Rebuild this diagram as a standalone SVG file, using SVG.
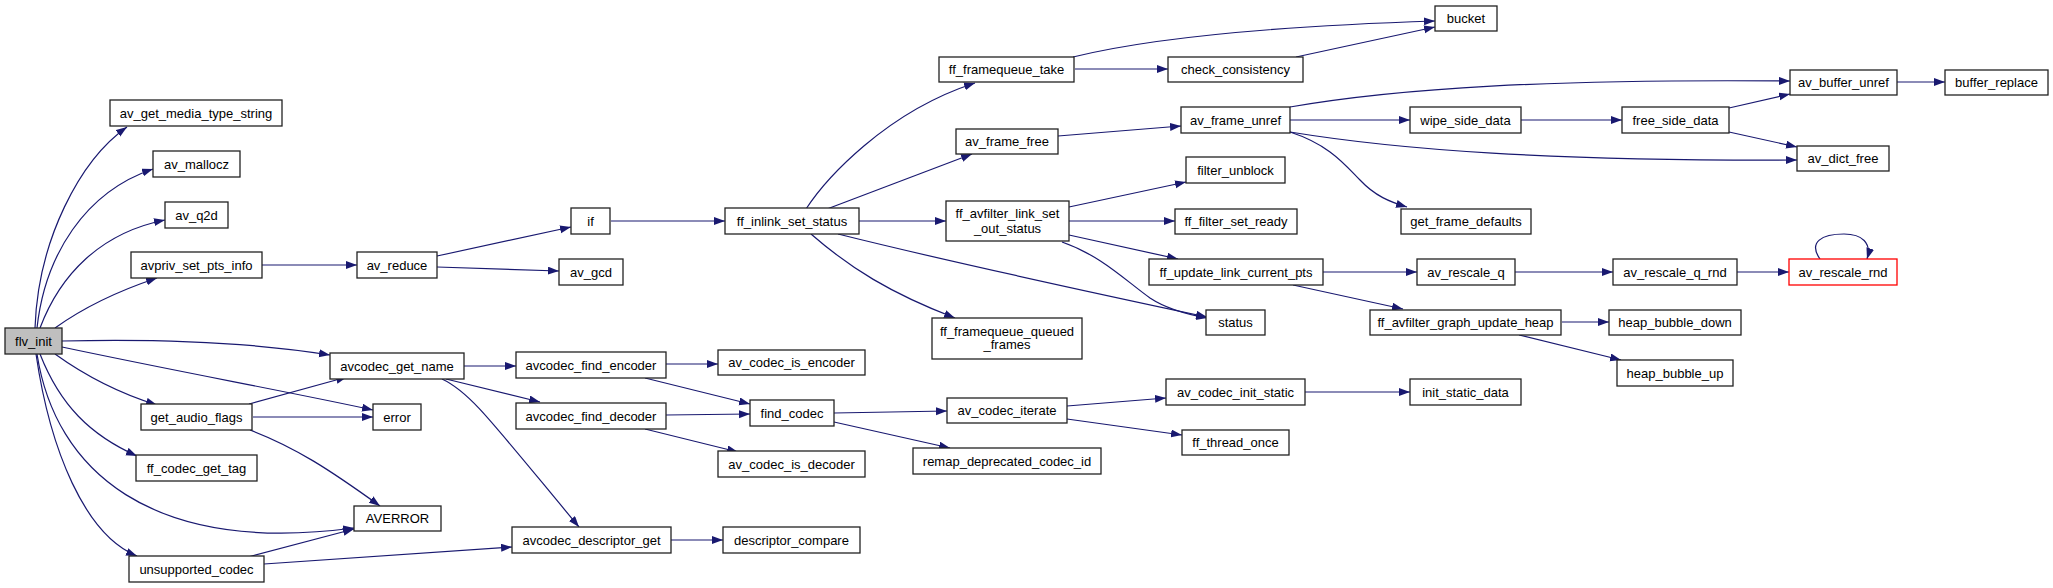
<svg xmlns="http://www.w3.org/2000/svg" width="2053" height="588" viewBox="0 0 2053 588">
<defs>
<marker id="ah" markerUnits="userSpaceOnUse" markerWidth="12" markerHeight="9" refX="11" refY="4" orient="auto">
<path d="M0,0 L11,4 L0,8 z" fill="#191970"/>
</marker>
<style>
.n rect{fill:#fff;stroke:#222;stroke-width:1.3}
.n text{font-family:"Liberation Sans",Arial,sans-serif;font-size:13px;fill:#000;text-anchor:middle}
#flv_init rect{fill:#bfbfbf}
#av_rescale_rnd rect{stroke:#ff0000}
#edges path{fill:none;stroke:#191970;stroke-width:1.2;marker-end:url(#ah)}
</style>
</defs>
<rect x="0" y="0" width="2053" height="588" fill="#fff"/>
<g id="edges">
<path d="M35,328 C38,240 80,160 127,127"/>
<path d="M37,328 C45,255 85,192 153,169"/>
<path d="M40,328 C60,275 100,233 165,220"/>
<path d="M55,328 C80,310 115,292 157,278"/>
<path d="M62,341 C150,339 250,342 330,355"/>
<path d="M62,347 C180,372 290,392 373,410"/>
<path d="M55,354 C80,372 115,392 157,405"/>
<path d="M40,354 C60,405 90,435 137,456"/>
<path d="M37,354 C55,470 150,555 354,528"/>
<path d="M36,354 C50,450 85,535 137,556"/>
<path d="M249,404 L347,377"/>
<path d="M253,417 L373,417"/>
<path d="M250,430 C295,447 330,470 380,506"/>
<path d="M248,557 L354,529"/>
<path d="M264,564 L512,547"/>
<path d="M464,366 L516,366"/>
<path d="M446,379 L540,402"/>
<path d="M442,379 C470,392 490,420 579,527"/>
<path d="M666,364 L718,364"/>
<path d="M645,378 L750,404"/>
<path d="M666,415 L750,414"/>
<path d="M645,429 L738,452"/>
<path d="M834,413 L947,411"/>
<path d="M834,422 L950,448"/>
<path d="M1067,406 L1166,398"/>
<path d="M1067,419 L1182,435"/>
<path d="M1305,392 L1410,392"/>
<path d="M671,540 L723,540"/>
<path d="M262,265 L357,265"/>
<path d="M437,256 L571,227"/>
<path d="M437,267 L559,271"/>
<path d="M611,221 L725,221"/>
<path d="M806,209 C825,180 885,112 975,83"/>
<path d="M827,209 L972,154"/>
<path d="M859,221 L946,221"/>
<path d="M811,234 C850,268 890,293 955,318"/>
<path d="M838,234 C950,262 1080,290 1207,317"/>
<path d="M1075,69 L1168,69"/>
<path d="M1073,57 C1150,38 1280,26 1435,21"/>
<path d="M1296,57 L1435,27"/>
<path d="M1058,136 L1181,126"/>
<path d="M1290,107 C1400,88 1550,79 1790,81"/>
<path d="M1290,120 L1410,120"/>
<path d="M1290,132 C1400,150 1550,161 1797,160"/>
<path d="M1290,132 C1330,145 1345,165 1360,180 C1375,196 1390,202 1407,207"/>
<path d="M1521,120 L1622,120"/>
<path d="M1729,108 L1790,94"/>
<path d="M1729,132 L1797,147"/>
<path d="M1897,82 L1945,82"/>
<path d="M1069,207 L1186,182"/>
<path d="M1069,221 L1175,221"/>
<path d="M1069,235 L1178,259"/>
<path d="M1062,242 C1100,255 1125,280 1150,298 C1165,308 1185,314 1207,318"/>
<path d="M1323,272 L1417,272"/>
<path d="M1293,285 L1403,309"/>
<path d="M1515,272 L1613,272"/>
<path d="M1737,272 L1789,272"/>
<path d="M1820,259 C1808,242 1822,234 1844,234 C1862,234 1872,243 1867,259"/>
<path d="M1562,322 L1609,322"/>
<path d="M1519,335 L1621,360"/>
</g>
<g id="flv_init" class="n"><rect x="5" y="328" width="57" height="26"/><text x="33.5" y="345.5">flv_init</text></g>
<g id="av_get_media_type_string" class="n"><rect x="110" y="100" width="172" height="26"/><text x="196" y="117.5">av_get_media_type_string</text></g>
<g id="av_mallocz" class="n"><rect x="153" y="151" width="87" height="26"/><text x="196.5" y="168.5">av_mallocz</text></g>
<g id="av_q2d" class="n"><rect x="165" y="202" width="63" height="26"/><text x="196.5" y="219.5">av_q2d</text></g>
<g id="avpriv_set_pts_info" class="n"><rect x="131" y="252" width="131" height="26"/><text x="196.5" y="269.5">avpriv_set_pts_info</text></g>
<g id="av_reduce" class="n"><rect x="357" y="252" width="80" height="26"/><text x="397" y="269.5">av_reduce</text></g>
<g id="if" class="n"><rect x="571" y="208" width="39" height="26"/><text x="590.5" y="225.5">if</text></g>
<g id="av_gcd" class="n"><rect x="559" y="259" width="64" height="26"/><text x="591" y="276.5">av_gcd</text></g>
<g id="ff_inlink_set_status" class="n"><rect x="725" y="208" width="134" height="26"/><text x="792" y="225.5">ff_inlink_set_status</text></g>
<g id="ff_framequeue_take" class="n"><rect x="939" y="57" width="135" height="25"/><text x="1006.5" y="74">ff_framequeue_take</text></g>
<g id="check_consistency" class="n"><rect x="1168" y="57" width="135" height="25"/><text x="1235.5" y="74">check_consistency</text></g>
<g id="bucket" class="n"><rect x="1435" y="6" width="62" height="25"/><text x="1466" y="23">bucket</text></g>
<g id="av_frame_free" class="n"><rect x="956" y="129" width="102" height="25"/><text x="1007" y="146">av_frame_free</text></g>
<g id="av_frame_unref" class="n"><rect x="1181" y="107" width="109" height="26"/><text x="1235.5" y="124.5">av_frame_unref</text></g>
<g id="av_buffer_unref" class="n"><rect x="1790" y="70" width="107" height="25"/><text x="1843.5" y="87">av_buffer_unref</text></g>
<g id="buffer_replace" class="n"><rect x="1945" y="70" width="103" height="25"/><text x="1996.5" y="87">buffer_replace</text></g>
<g id="wipe_side_data" class="n"><rect x="1410" y="107" width="111" height="26"/><text x="1465.5" y="124.5">wipe_side_data</text></g>
<g id="free_side_data" class="n"><rect x="1622" y="107" width="107" height="26"/><text x="1675.5" y="124.5">free_side_data</text></g>
<g id="av_dict_free" class="n"><rect x="1797" y="146" width="92" height="25"/><text x="1843" y="163">av_dict_free</text></g>
<g id="get_frame_defaults" class="n"><rect x="1401" y="209" width="130" height="25"/><text x="1466" y="226">get_frame_defaults</text></g>
<g id="filter_unblock" class="n"><rect x="1186" y="157" width="99" height="26"/><text x="1235.5" y="174.5">filter_unblock</text></g>
<g id="ff_avfilter_link_set_out_status" class="n"><rect x="946" y="201" width="123" height="40"/><text x="1007.5" y="218">ff_avfilter_link_set</text><text x="1007.5" y="233">_out_status</text></g>
<g id="ff_filter_set_ready" class="n"><rect x="1175" y="209" width="122" height="25"/><text x="1236" y="226">ff_filter_set_ready</text></g>
<g id="ff_update_link_current_pts" class="n"><rect x="1149" y="259" width="174" height="26"/><text x="1236" y="276.5">ff_update_link_current_pts</text></g>
<g id="av_rescale_q" class="n"><rect x="1417" y="259" width="98" height="26"/><text x="1466" y="276.5">av_rescale_q</text></g>
<g id="av_rescale_q_rnd" class="n"><rect x="1613" y="259" width="124" height="26"/><text x="1675" y="276.5">av_rescale_q_rnd</text></g>
<g id="av_rescale_rnd" class="n"><rect x="1789" y="259" width="108" height="26"/><text x="1843" y="276.5">av_rescale_rnd</text></g>
<g id="ff_avfilter_graph_update_heap" class="n"><rect x="1370" y="310" width="191" height="25"/><text x="1465.5" y="327">ff_avfilter_graph_update_heap</text></g>
<g id="heap_bubble_down" class="n"><rect x="1609" y="310" width="132" height="25"/><text x="1675" y="327">heap_bubble_down</text></g>
<g id="heap_bubble_up" class="n"><rect x="1617" y="360" width="116" height="26"/><text x="1675" y="377.5">heap_bubble_up</text></g>
<g id="status" class="n"><rect x="1206" y="310" width="59" height="25"/><text x="1235.5" y="327">status</text></g>
<g id="ff_framequeue_queued_frames" class="n"><rect x="932" y="318" width="150" height="41"/><text x="1007" y="335.5">ff_framequeue_queued</text><text x="1007" y="349">_frames</text></g>
<g id="avcodec_get_name" class="n"><rect x="330" y="353" width="134" height="26"/><text x="397" y="370.5">avcodec_get_name</text></g>
<g id="avcodec_find_encoder" class="n"><rect x="516" y="352" width="150" height="26"/><text x="591" y="369.5">avcodec_find_encoder</text></g>
<g id="av_codec_is_encoder" class="n"><rect x="718" y="350" width="147" height="25"/><text x="791.5" y="367">av_codec_is_encoder</text></g>
<g id="get_audio_flags" class="n"><rect x="141" y="404" width="111" height="26"/><text x="196.5" y="421.5">get_audio_flags</text></g>
<g id="error" class="n"><rect x="373" y="404" width="48" height="26"/><text x="397" y="421.5">error</text></g>
<g id="avcodec_find_decoder" class="n"><rect x="516" y="403" width="150" height="26"/><text x="591" y="420.5">avcodec_find_decoder</text></g>
<g id="find_codec" class="n"><rect x="750" y="400" width="84" height="26"/><text x="792" y="417.5">find_codec</text></g>
<g id="av_codec_iterate" class="n"><rect x="947" y="398" width="120" height="25"/><text x="1007" y="415">av_codec_iterate</text></g>
<g id="av_codec_init_static" class="n"><rect x="1166" y="379" width="139" height="26"/><text x="1235.5" y="396.5">av_codec_init_static</text></g>
<g id="init_static_data" class="n"><rect x="1410" y="379" width="111" height="26"/><text x="1465.5" y="396.5">init_static_data</text></g>
<g id="ff_thread_once" class="n"><rect x="1182" y="430" width="107" height="25"/><text x="1235.5" y="447">ff_thread_once</text></g>
<g id="av_codec_is_decoder" class="n"><rect x="718" y="451" width="147" height="26"/><text x="791.5" y="468.5">av_codec_is_decoder</text></g>
<g id="remap_deprecated_codec_id" class="n"><rect x="913" y="448" width="188" height="26"/><text x="1007" y="465.5">remap_deprecated_codec_id</text></g>
<g id="ff_codec_get_tag" class="n"><rect x="136" y="455" width="121" height="26"/><text x="196.5" y="472.5">ff_codec_get_tag</text></g>
<g id="AVERROR" class="n"><rect x="354" y="506" width="87" height="25"/><text x="397.5" y="523">AVERROR</text></g>
<g id="avcodec_descriptor_get" class="n"><rect x="512" y="527" width="159" height="26"/><text x="591.5" y="544.5">avcodec_descriptor_get</text></g>
<g id="descriptor_compare" class="n"><rect x="723" y="527" width="137" height="26"/><text x="791.5" y="544.5">descriptor_compare</text></g>
<g id="unsupported_codec" class="n"><rect x="129" y="556" width="135" height="26"/><text x="196.5" y="573.5">unsupported_codec</text></g>
</svg>
